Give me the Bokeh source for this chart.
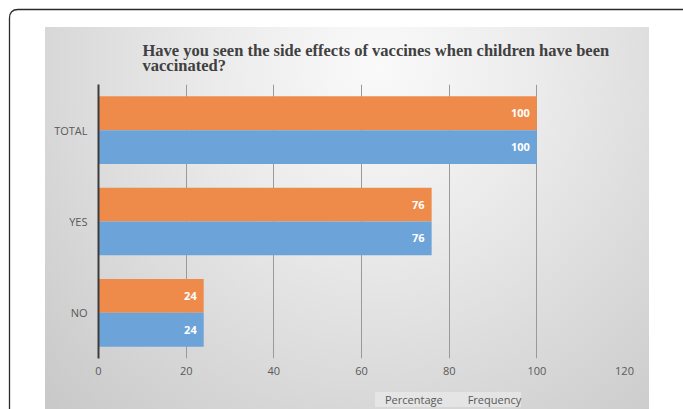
import base64
from bokeh.plotting import figure
from bokeh.layouts import column
from bokeh.models import ColumnDataSource, FactorRange, Range1d, Legend, LegendItem, Title, FixedTicker
from bokeh.transform import dodge
from bokeh.core.properties import value
from bokeh.embed import file_html
from bokeh.resources import INLINE

# ---- data ----
categories = ["NO", "YES", "TOTAL"]
percentage = [24, 76, 100]
frequency = [24, 76, 100]
series_names = ["Percentage", "Frequency"]
x_ticks = [0, 20, 40, 60, 80, 100, 120]
title_text = ("Have you seen the side effects of vaccines when children have been\n"
              "vaccinated?")

ORANGE = "#EE8B4B"
BLUE = "#6CA3D8"
TEXT = "#595959"

src = ColumnDataSource(dict(
    cat=categories,
    pct=percentage,
    freq=frequency,
    pct_lbl=[str(v) for v in percentage],
    freq_lbl=[str(v) for v in frequency],
))

# ---- page decoration (outer rounded frame + gradient panel) ----
frame_svg = ("<svg xmlns='http://www.w3.org/2000/svg' width='683' height='409'>"
             "<path d='M9.5 430 L9.5 18 Q9.5 9.5 18 9.5 L720 9.5' fill='none' "
             "stroke='#2b2b2b' stroke-width='1.3'/></svg>")
frame_b64 = base64.b64encode(frame_svg.encode()).decode()
css_bg = (
    f'url("data:image/svg+xml;base64,{frame_b64}") 0px 0px / 683px 409px no-repeat, '
    "radial-gradient(ellipse farthest-corner at 55% 10%, #fafafa 0%, #ebebeb 35%, "
    "#d8d8d8 70%, #c8c8c8 100%) 45px 27px / 604px 382px no-repeat, #ffffff"
)

# ---- main chart ----
p = figure(
    width=683, height=384, frame_width=526, frame_height=274,
    x_range=Range1d(0, 120),
    y_range=FactorRange(factors=categories),
    output_backend="svg", toolbar_location=None, title=None,
    min_border_left=98, min_border_right=59, min_border_top=84, min_border_bottom=26,
    border_fill_color=None, background_fill_color=None, outline_line_color=None,
)

t = Title(text=title_text, align="left", offset=44, standoff=19,
          text_font="Liberation Serif", text_font_style="bold",
          text_font_size="16.5px", text_color="#404040", text_line_height=0.78)
p.add_layout(t, "above")

r1 = p.hbar(y=dodge("cat", 0.185, range=p.y_range), left=0, right="pct", height=0.37,
            fill_color=ORANGE, line_color=None, source=src)
r2 = p.hbar(y=dodge("cat", -0.185, range=p.y_range), left=0, right="freq", height=0.37,
            fill_color=BLUE, line_color=None, source=src)

for col, lbl, off in (("pct", "pct_lbl", 0.185), ("freq", "freq_lbl", -0.185)):
    p.text(x=col, y=dodge("cat", off, range=p.y_range), text=lbl, source=src,
           x_offset=-7, text_align="right", text_baseline="middle",
           text_color="white", text_font=value("Open Sans"),
           text_font_style="bold", text_font_size="11px")

p.xaxis.ticker = FixedTicker(ticks=x_ticks)
p.xgrid.ticker = FixedTicker(ticks=x_ticks)
p.xgrid.grid_line_color = "#9a9a9a"
p.xgrid.grid_line_width = 1
p.ygrid.grid_line_color = None

p.xaxis.axis_line_color = None
p.xaxis.major_tick_line_color = None
p.xaxis.minor_tick_line_color = None
p.xaxis.major_tick_out = 0
p.xaxis.major_tick_in = 0
p.xaxis.minor_tick_out = 0
p.xaxis.major_label_standoff = 8
p.xaxis.major_label_text_font = "Open Sans"
p.xaxis.major_label_text_font_size = "11px"
p.xaxis.major_label_text_color = TEXT

p.yaxis.axis_line_color = "#3c3c3c"
p.yaxis.axis_line_width = 2
p.yaxis.major_tick_line_color = None
p.yaxis.minor_tick_line_color = None
p.yaxis.major_label_standoff = 5
p.yaxis.major_label_text_font = "Open Sans"
p.yaxis.major_label_text_font_size = "11px"
p.yaxis.major_label_text_color = TEXT

# ---- legend strip (own small figure, so the legend is not clipped) ----
leg = figure(
    width=683, height=25, x_range=Range1d(0, 683), y_range=Range1d(0, 25),
    output_backend="svg", toolbar_location=None, title=None,
    x_axis_location=None, y_axis_location=None,
    min_border=0, border_fill_color=None, background_fill_color=None,
    outline_line_color=None,
)
leg.xgrid.grid_line_color = None
leg.ygrid.grid_line_color = None
lr1 = leg.hbar(y=[], right=[], left=0, height=1, fill_color=ORANGE, line_color=None)
lr2 = leg.hbar(y=[], right=[], left=0, height=1, fill_color=BLUE, line_color=None)

legend = Legend(
    items=[LegendItem(label=series_names[0], renderers=[lr1]),
           LegendItem(label=series_names[1], renderers=[lr2])],
    location=(277, 2), orientation="horizontal",
    background_fill_color="#f2f2f2", background_fill_alpha=0.5,
    border_line_color=None, padding=3, margin=0, spacing=15,
    glyph_width=6, glyph_height=6, label_standoff=4, label_height=14,
    label_text_font="Open Sans", label_text_font_size="11px", label_text_color=TEXT,
)
leg.add_layout(legend)

root = column(p, leg, width=683, height=409, spacing=0, styles={"background": css_bg})

open("out.html", "w").write(file_html(root, INLINE))
